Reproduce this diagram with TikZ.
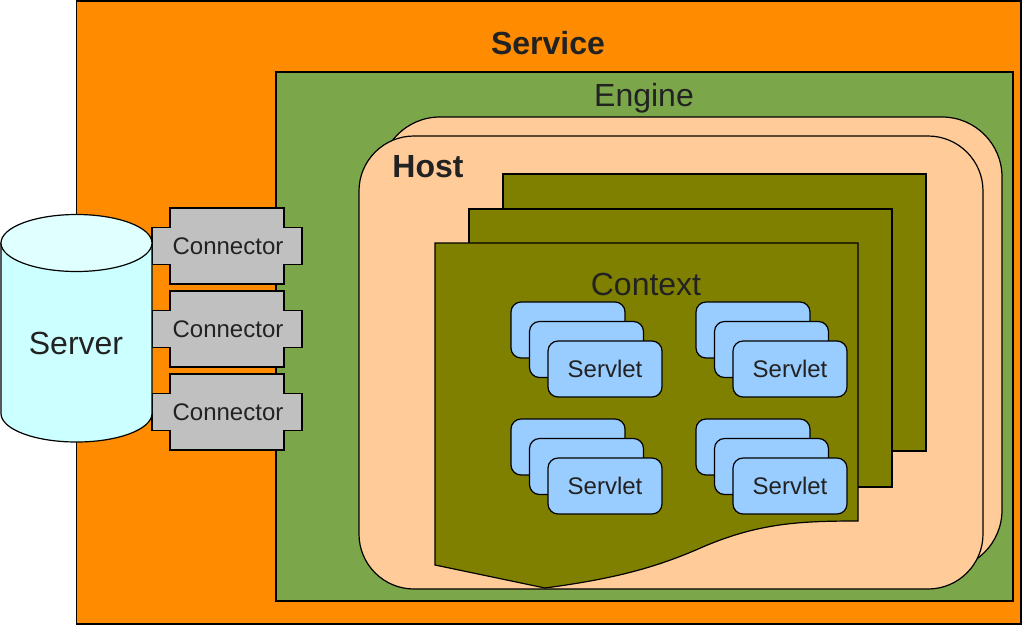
\documentclass[tikz,border=0pt]{standalone}
\usepackage{fontspec}
\setmainfont{Liberation Sans}
\definecolor{serviceorange}{RGB}{255,140,0}
\definecolor{enginegreen}{RGB}{123,166,74}
\definecolor{hostpeach}{RGB}{255,204,153}
\definecolor{contextolive}{RGB}{128,128,0}
\definecolor{servletblue}{RGB}{153,204,255}
\definecolor{connectorgray}{RGB}{192,192,192}
\definecolor{servercyan}{RGB}{204,255,255}
\definecolor{servertop}{RGB}{224,255,255}
\definecolor{textgray}{RGB}{34,34,34}

\begin{document}
\begin{tikzpicture}[x=1pt,y=-1pt,line width=1.2pt]
                \tikzstyle{every node}=[text=textgray,inner sep=0pt]
                \tikzstyle{big}=[font=\fontsize{32}{38}\selectfont,text height=23pt,text depth=0pt]
                \tikzstyle{small}=[font=\fontsize{24}{29}\selectfont,text height=17.2pt,text depth=0pt]
                \tikzstyle{servletbox}=[draw,fill=servletblue,rounded corners=10pt,minimum width=114pt,minimum height=56pt,small]
                \useasboundingbox (0,0) rectangle (1022,625);
                % service and engine
                \draw [fill=serviceorange] (76.5,1) rectangle (1021,624);
                \node [big] (service) at (548,43) {\bfseries Service};
                \draw [fill=enginegreen] (276,72) rectangle (1013,601);
                \node [big] (engine) at (644,95) {Engine};
                % hosts
                \draw [fill=hostpeach,rounded corners=60pt] (380,117) rectangle (1002,570);
                \draw [fill=hostpeach,rounded corners=55pt] (359,136) rectangle (983,589);
                \node [big] (host) at (428,166) {\bfseries Host};
                % contexts
                \draw [fill=contextolive] (503,174) rectangle (926,451);
                \draw [fill=contextolive] (469,209) rectangle (892,487);
                \draw [fill=contextolive] (435,243) -- (858,243) -- (858,521)
                    .. controls (800,521) and (760,523) .. (705,546)
                    .. controls (660,566) and (620,578) .. (545,588) -- (435,565) -- cycle;
                \node [big] (context) at (646,284) {Context};
                % servlets
                \foreach \gx in {0,185}
                    \foreach \gy in {0,117}
                    {
                        \draw [fill=servletblue,rounded corners=10pt] (511+\gx,302+\gy) rectangle ++(114,56);
                        \draw [fill=servletblue,rounded corners=10pt] (529.5+\gx,321.5+\gy) rectangle ++(114,56);
                        \node [servletbox] (servlet\gx\gy) at (605+\gx,369+\gy) {Servlet};
                    }
                % connectors
                \foreach \cy [count=\i] in {246,329,412}
                    {
                        \draw [fill=connectorgray] (170,\cy-38) -- (284,\cy-38) -- (284,\cy-18.5) -- (302,\cy-18.5)
                            -- (302,\cy+18.5) -- (284,\cy+18.5) -- (284,\cy+38) -- (170,\cy+38)
                            -- (170,\cy+18.5) -- (152,\cy+18.5) -- (152,\cy-18.5) -- (170,\cy-18.5) -- cycle;
                        \node [small] (connector\i) at (228,\cy-0.5) {Connector};
                    }
                % server
                \draw [fill=servercyan] (1,243) -- (1,413.5)
                    arc [start angle=180,end angle=0,x radius=75.5,y radius=28.5] -- (152,243) -- cycle;
                \draw [fill=servertop] (76.5,243) ellipse [x radius=75.5,y radius=28.5];
                \node [big] (server) at (76,343) {Server};
            \end{tikzpicture}
\end{document}
